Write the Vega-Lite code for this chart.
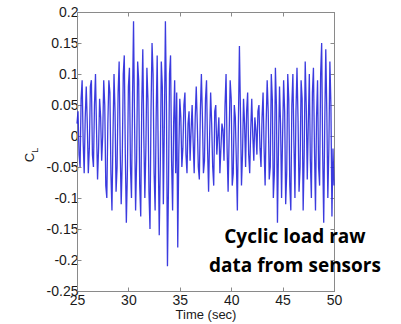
{
  "$schema": "https://vega.github.io/schema/vega-lite/v6.json",
  "width": 257,
  "height": 279,
  "autosize": {"type": "none"},
  "padding": {"left": 77, "top": 12, "right": 67, "bottom": 33},
  "background": "white",
  "config": {
    "view": {"stroke": "#8a8a8a", "strokeWidth": 1},
    "axis": {
      "grid": false,
      "domainColor": "#8a8a8a",
      "tickColor": "#8a8a8a",
      "tickSize": -4,
      "labelColor": "#1a1a1a",
      "labelFont": "Liberation Sans",
      "labelFontSize": 14,
      "labelOverlap": false,
      "labelFlush": false,
      "titleFont": "Liberation Sans",
      "titleFontWeight": "normal",
      "titleColor": "#1a1a1a"
    }
  },
  "layer": [
    {
      "data": {"values": [
        {"t":25.0,"c":0.02},{"t":25.1,"c":0.04},{"t":25.2,"c":-0.03},{"t":25.3,"c":-0.05},{"t":25.4,"c":0.06},{"t":25.5,"c":0.09},{"t":25.6,"c":-0.01},{"t":25.7,"c":-0.06},{"t":25.8,"c":0.03},{"t":25.9,"c":0.08},
        {"t":26.0,"c":0.02},{"t":26.1,"c":-0.06},{"t":26.2,"c":-0.02},{"t":26.3,"c":0.08},{"t":26.4,"c":0.09},{"t":26.5,"c":-0.03},{"t":26.6,"c":-0.05},{"t":26.7,"c":0.05},{"t":26.8,"c":0.10},{"t":26.9,"c":0.01},
        {"t":27.0,"c":-0.07},{"t":27.1,"c":-0.02},{"t":27.2,"c":0.06},{"t":27.3,"c":0.03},{"t":27.4,"c":-0.04},{"t":27.5,"c":0.00},{"t":27.6,"c":0.09},{"t":27.7,"c":0.05},{"t":27.8,"c":-0.08},{"t":27.9,"c":-0.10},
        {"t":28.0,"c":0.02},{"t":28.1,"c":0.09},{"t":28.2,"c":0.07},{"t":28.3,"c":-0.06},{"t":28.4,"c":-0.12},{"t":28.5,"c":0.00},{"t":28.6,"c":0.10},{"t":28.7,"c":0.04},{"t":28.8,"c":-0.09},{"t":28.9,"c":-0.05},
        {"t":29.0,"c":0.07},{"t":29.1,"c":0.12},{"t":29.2,"c":-0.02},{"t":29.3,"c":-0.11},{"t":29.4,"c":-0.04},{"t":29.5,"c":0.10},{"t":29.6,"c":0.13},{"t":29.7,"c":-0.03},{"t":29.8,"c":-0.14},{"t":29.9,"c":-0.06},
        {"t":30.0,"c":0.08},{"t":30.1,"c":0.11},{"t":30.2,"c":-0.05},{"t":30.3,"c":-0.10},{"t":30.4,"c":0.06},{"t":30.5,"c":0.185},{"t":30.6,"c":0.02},{"t":30.7,"c":-0.12},{"t":30.8,"c":-0.04},{"t":30.9,"c":0.12},
        {"t":31.0,"c":0.09},{"t":31.1,"c":-0.08},{"t":31.2,"c":-0.13},{"t":31.3,"c":0.05},{"t":31.4,"c":0.14},{"t":31.5,"c":0.00},{"t":31.6,"c":-0.10},{"t":31.7,"c":-0.02},{"t":31.8,"c":0.11},{"t":31.9,"c":0.06},
        {"t":32.0,"c":-0.09},{"t":32.1,"c":-0.15},{"t":32.2,"c":0.04},{"t":32.3,"c":0.15},{"t":32.4,"c":0.10},{"t":32.5,"c":-0.06},{"t":32.6,"c":-0.12},{"t":32.7,"c":0.03},{"t":32.8,"c":0.13},{"t":32.9,"c":-0.02},
        {"t":33.0,"c":-0.16},{"t":33.1,"c":-0.05},{"t":33.2,"c":0.12},{"t":33.3,"c":0.08},{"t":33.4,"c":-0.11},{"t":33.5,"c":0.02},{"t":33.6,"c":0.185},{"t":33.7,"c":0.05},{"t":33.8,"c":-0.21},{"t":33.9,"c":-0.08},
        {"t":34.0,"c":0.10},{"t":34.1,"c":0.13},{"t":34.2,"c":-0.04},{"t":34.3,"c":-0.12},{"t":34.4,"c":0.02},{"t":34.5,"c":0.09},{"t":34.6,"c":-0.06},{"t":34.7,"c":0.07},{"t":34.8,"c":-0.18},{"t":34.9,"c":-0.03},
        {"t":35.0,"c":0.06},{"t":35.1,"c":0.03},{"t":35.2,"c":-0.05},{"t":35.3,"c":-0.02},{"t":35.4,"c":0.05},{"t":35.5,"c":0.07},{"t":35.6,"c":-0.03},{"t":35.7,"c":-0.06},{"t":35.8,"c":0.02},{"t":35.9,"c":0.04},
        {"t":36.0,"c":-0.04},{"t":36.1,"c":0.01},{"t":36.2,"c":0.05},{"t":36.3,"c":-0.01},{"t":36.4,"c":-0.06},{"t":36.5,"c":0.03},{"t":36.6,"c":0.08},{"t":36.7,"c":0.02},{"t":36.8,"c":-0.05},{"t":36.9,"c":-0.07},
        {"t":37.0,"c":0.04},{"t":37.1,"c":0.10},{"t":37.2,"c":0.03},{"t":37.3,"c":-0.06},{"t":37.4,"c":-0.04},{"t":37.5,"c":0.06},{"t":37.6,"c":0.09},{"t":37.7,"c":-0.02},{"t":37.8,"c":-0.09},{"t":37.9,"c":0.00},
        {"t":38.0,"c":0.07},{"t":38.1,"c":0.02},{"t":38.2,"c":-0.05},{"t":38.3,"c":-0.08},{"t":38.4,"c":0.04},{"t":38.5,"c":0.05},{"t":38.6,"c":-0.03},{"t":38.7,"c":0.00},{"t":38.8,"c":0.03},{"t":38.9,"c":-0.06},
        {"t":39.0,"c":-0.02},{"t":39.1,"c":0.02},{"t":39.2,"c":0.01},{"t":39.3,"c":-0.04},{"t":39.4,"c":0.05},{"t":39.5,"c":0.10},{"t":39.6,"c":-0.02},{"t":39.7,"c":-0.09},{"t":39.8,"c":0.00},{"t":39.9,"c":0.09},
        {"t":40.0,"c":0.06},{"t":40.1,"c":-0.08},{"t":40.2,"c":-0.06},{"t":40.3,"c":0.05},{"t":40.4,"c":0.03},{"t":40.5,"c":-0.04},{"t":40.6,"c":-0.12},{"t":40.7,"c":0.02},{"t":40.8,"c":0.145},{"t":40.9,"c":0.04},
        {"t":41.0,"c":-0.08},{"t":41.1,"c":-0.03},{"t":41.2,"c":0.06},{"t":41.3,"c":0.02},{"t":41.4,"c":-0.05},{"t":41.5,"c":0.04},{"t":41.6,"c":0.07},{"t":41.7,"c":-0.03},{"t":41.8,"c":-0.06},{"t":41.9,"c":0.01},
        {"t":42.0,"c":0.06},{"t":42.1,"c":0.00},{"t":42.2,"c":-0.04},{"t":42.3,"c":0.03},{"t":42.4,"c":0.01},{"t":42.5,"c":-0.03},{"t":42.6,"c":0.04},{"t":42.7,"c":0.05},{"t":42.8,"c":-0.02},{"t":42.9,"c":-0.05},
        {"t":43.0,"c":0.03},{"t":43.1,"c":0.07},{"t":43.2,"c":-0.02},{"t":43.3,"c":-0.08},{"t":43.4,"c":0.02},{"t":43.5,"c":0.09},{"t":43.6,"c":0.04},{"t":43.7,"c":-0.07},{"t":43.8,"c":-0.05},{"t":43.9,"c":0.10},
        {"t":44.0,"c":0.06},{"t":44.1,"c":-0.10},{"t":44.2,"c":-0.06},{"t":44.3,"c":0.11},{"t":44.4,"c":0.05},{"t":44.5,"c":-0.14},{"t":44.6,"c":-0.02},{"t":44.7,"c":0.08},{"t":44.8,"c":0.02},{"t":44.9,"c":-0.10},
        {"t":45.0,"c":0.00},{"t":45.1,"c":0.09},{"t":45.2,"c":0.04},{"t":45.3,"c":-0.11},{"t":45.4,"c":-0.06},{"t":45.5,"c":0.10},{"t":45.6,"c":0.06},{"t":45.7,"c":-0.08},{"t":45.8,"c":-0.12},{"t":45.9,"c":0.05},
        {"t":46.0,"c":0.10},{"t":46.1,"c":-0.01},{"t":46.2,"c":-0.10},{"t":46.3,"c":0.04},{"t":46.4,"c":0.11},{"t":46.5,"c":0.03},{"t":46.6,"c":-0.09},{"t":46.7,"c":-0.05},{"t":46.8,"c":0.09},{"t":46.9,"c":0.06},
        {"t":47.0,"c":-0.12},{"t":47.1,"c":-0.03},{"t":47.2,"c":0.12},{"t":47.3,"c":0.05},{"t":47.4,"c":-0.07},{"t":47.5,"c":0.02},{"t":47.6,"c":0.10},{"t":47.7,"c":-0.04},{"t":47.8,"c":-0.10},{"t":47.9,"c":0.07},
        {"t":48.0,"c":0.11},{"t":48.1,"c":-0.02},{"t":48.2,"c":-0.12},{"t":48.3,"c":0.03},{"t":48.4,"c":0.09},{"t":48.5,"c":-0.05},{"t":48.6,"c":-0.08},{"t":48.7,"c":0.10},{"t":48.8,"c":0.15},{"t":48.9,"c":-0.03},
        {"t":49.0,"c":-0.14},{"t":49.1,"c":0.02},{"t":49.2,"c":0.14},{"t":49.3,"c":0.04},{"t":49.4,"c":-0.10},{"t":49.5,"c":-0.02},{"t":49.6,"c":0.12},{"t":49.7,"c":0.05},{"t":49.8,"c":-0.13},{"t":49.9,"c":-0.02},
        {"t":50.0,"c":-0.08}
      ]},
      "mark": {"type": "line", "color": "#2626dc", "strokeWidth": 1.3, "opacity": 0.9},
      "encoding": {
        "x": {
          "field": "t", "type": "quantitative",
          "scale": {"domain": [25, 50], "nice": false, "zero": false},
          "axis": {"orient": "bottom", "values": [25, 30, 35, 40, 45, 50], "labelPadding": 6, "title": "Time (sec)", "titleFontSize": 13, "titlePadding": 1, "labelExpr": "'' + datum.value"}
        },
        "y": {
          "field": "c", "type": "quantitative",
          "scale": {"domain": [-0.25, 0.2], "nice": false, "zero": false},
          "axis": {"orient": "left", "values": [-0.25, -0.2, -0.15, -0.1, -0.05, 0, 0.05, 0.1, 0.15, 0.2], "labelPadding": 3, "labelExpr": "'' + datum.value", "title": "C", "titleFontSize": 13, "titleAngle": -90, "titleX": -44, "titleY": 145, "titleAlign": "center", "titleBaseline": "alphabetic"}
        }
      }
    },
    {
      "data": {"values": [{"t": 46.2, "c": -0.1726, "txt": "Cyclic load raw\ndata from sensors"}]},
      "mark": {"type": "text", "font": "Open Sans", "fontWeight": "bold", "fontSize": 19, "lineBreak": "\n", "lineHeight": 29, "align": "center", "baseline": "alphabetic", "color": "#000000"},
      "encoding": {
        "x": {"field": "t", "type": "quantitative", "axis": {"orient": "top", "values": [25, 30, 35, 40, 45, 50], "labels": false, "title": null}},
        "y": {"field": "c", "type": "quantitative", "axis": {"orient": "right", "values": [-0.25, -0.2, -0.15, -0.1, -0.05, 0, 0.05, 0.1, 0.15, 0.2], "labels": false, "title": null}},
        "text": {"field": "txt"}
      }
    },
    {
      "data": {"values": [{"t": 21.2, "c": -0.023, "txt": "L"}]},
      "mark": {"type": "text", "font": "Liberation Sans", "fontSize": 9, "angle": 270, "align": "center", "baseline": "alphabetic", "color": "#1a1a1a"},
      "encoding": {
        "x": {"field": "t", "type": "quantitative", "axis": null},
        "y": {"field": "c", "type": "quantitative", "axis": null},
        "text": {"field": "txt"}
      }
    }
  ],
  "resolve": {"axis": {"x": "independent", "y": "independent"}}
}
